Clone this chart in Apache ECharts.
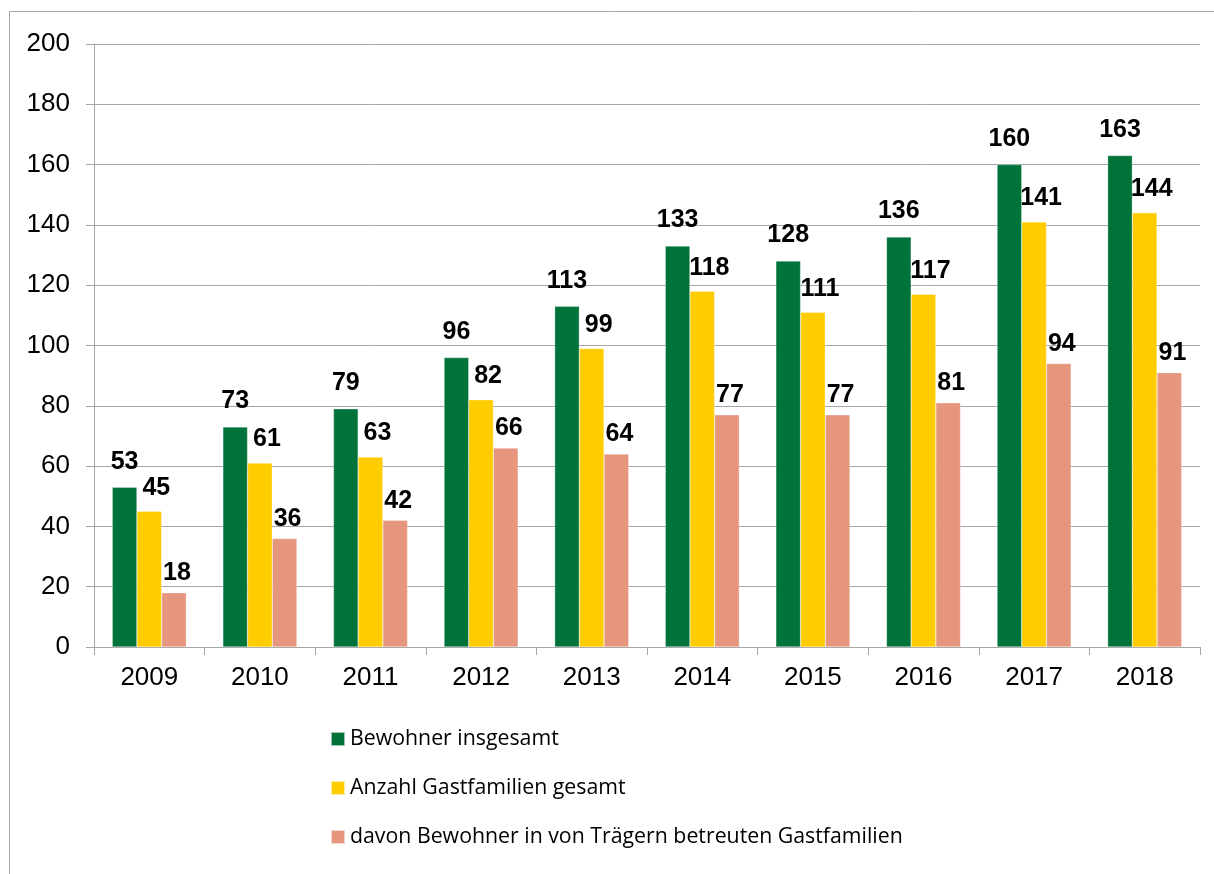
<!DOCTYPE html>
<html>
<head>
<meta charset="utf-8">
<script src="https://cdn.jsdelivr.net/npm/echarts@6/dist/echarts.min.js"></script>
<style>
html,body{margin:0;padding:0;background:#fff;}
#chart{width:1214px;height:874px;}
</style>
</head>
<body>
<div id="chart"></div>
<script>
const years = ['2009','2010','2011','2012','2013','2014','2015','2016','2017','2018'];
const seriesNames = ['Bewohner insgesamt','Anzahl Gastfamilien gesamt','davon Bewohner in von Trägern betreuten Gastfamilien'];
const bewohner = [53,73,79,96,113,133,128,136,160,163];
const gastfamilien = [45,61,63,82,99,118,111,117,141,144];
const traeger = [18,36,42,66,64,77,77,81,94,91];
const colors = ['#00733A','#FFCC00','#E6967D'];

const chart = echarts.init(document.getElementById('chart'), null, {renderer:'canvas'});
function mk(name, data, i, dist, dx){
  return {name:name, type:'bar', data:data, barGap:'0%', barCategoryGap:'33%',
    itemStyle:{color:colors[i], borderColor:'rgba(255,255,255,0.6)', borderWidth:0.5},
    label:{show:true, position:'top', distance:dist, offset:[dx,0], color:'#000',
      fontFamily:'Liberation Sans, Arial, sans-serif', fontWeight:'bold', fontSize:25}};
}
chart.setOption({
  animation:false,
  backgroundColor:'#fff',
  graphic:[{type:'rect', shape:{x:9.5,y:11.5,width:1300,height:1000}, style:{fill:'none', stroke:'#A6A6A6', lineWidth:1}, silent:true}],
  grid:{left:94, right:14, top:44, bottom:227, containLabel:false},
  legend:{orient:'vertical', left:325, top:722, itemWidth:14, itemHeight:14, itemGap:25, icon:'rect',
    textStyle:{fontFamily:'Open Sans, Noto Sans, sans-serif', fontSize:21.3, color:'#000', lineHeight:24},
    data:seriesNames},
  xAxis:{type:'category', data:years,
    axisLine:{lineStyle:{color:'#A6A6A6', width:1}},
    axisTick:{show:true, length:8, lineStyle:{color:'#A6A6A6'}},
    axisLabel:{color:'#000', fontFamily:'Liberation Sans, Arial, sans-serif', fontSize:26, margin:18}},
  yAxis:{type:'value', min:0, max:200, interval:20,
    axisLine:{show:true, lineStyle:{color:'#A6A6A6', width:1}},
    axisTick:{show:true, length:8, lineStyle:{color:'#A6A6A6'}},
    splitLine:{show:true, lineStyle:{color:'#A6A6A6', width:1}},
    axisLabel:{color:'#000', fontFamily:'Liberation Sans, Arial, sans-serif', fontSize:26, margin:24}},
  series:[mk(seriesNames[0], bewohner, 0, 13, 0), mk(seriesNames[1], gastfamilien, 1, 11, 7), mk(seriesNames[2], traeger, 2, 7, 3)]
});
</script>
</body>
</html>
